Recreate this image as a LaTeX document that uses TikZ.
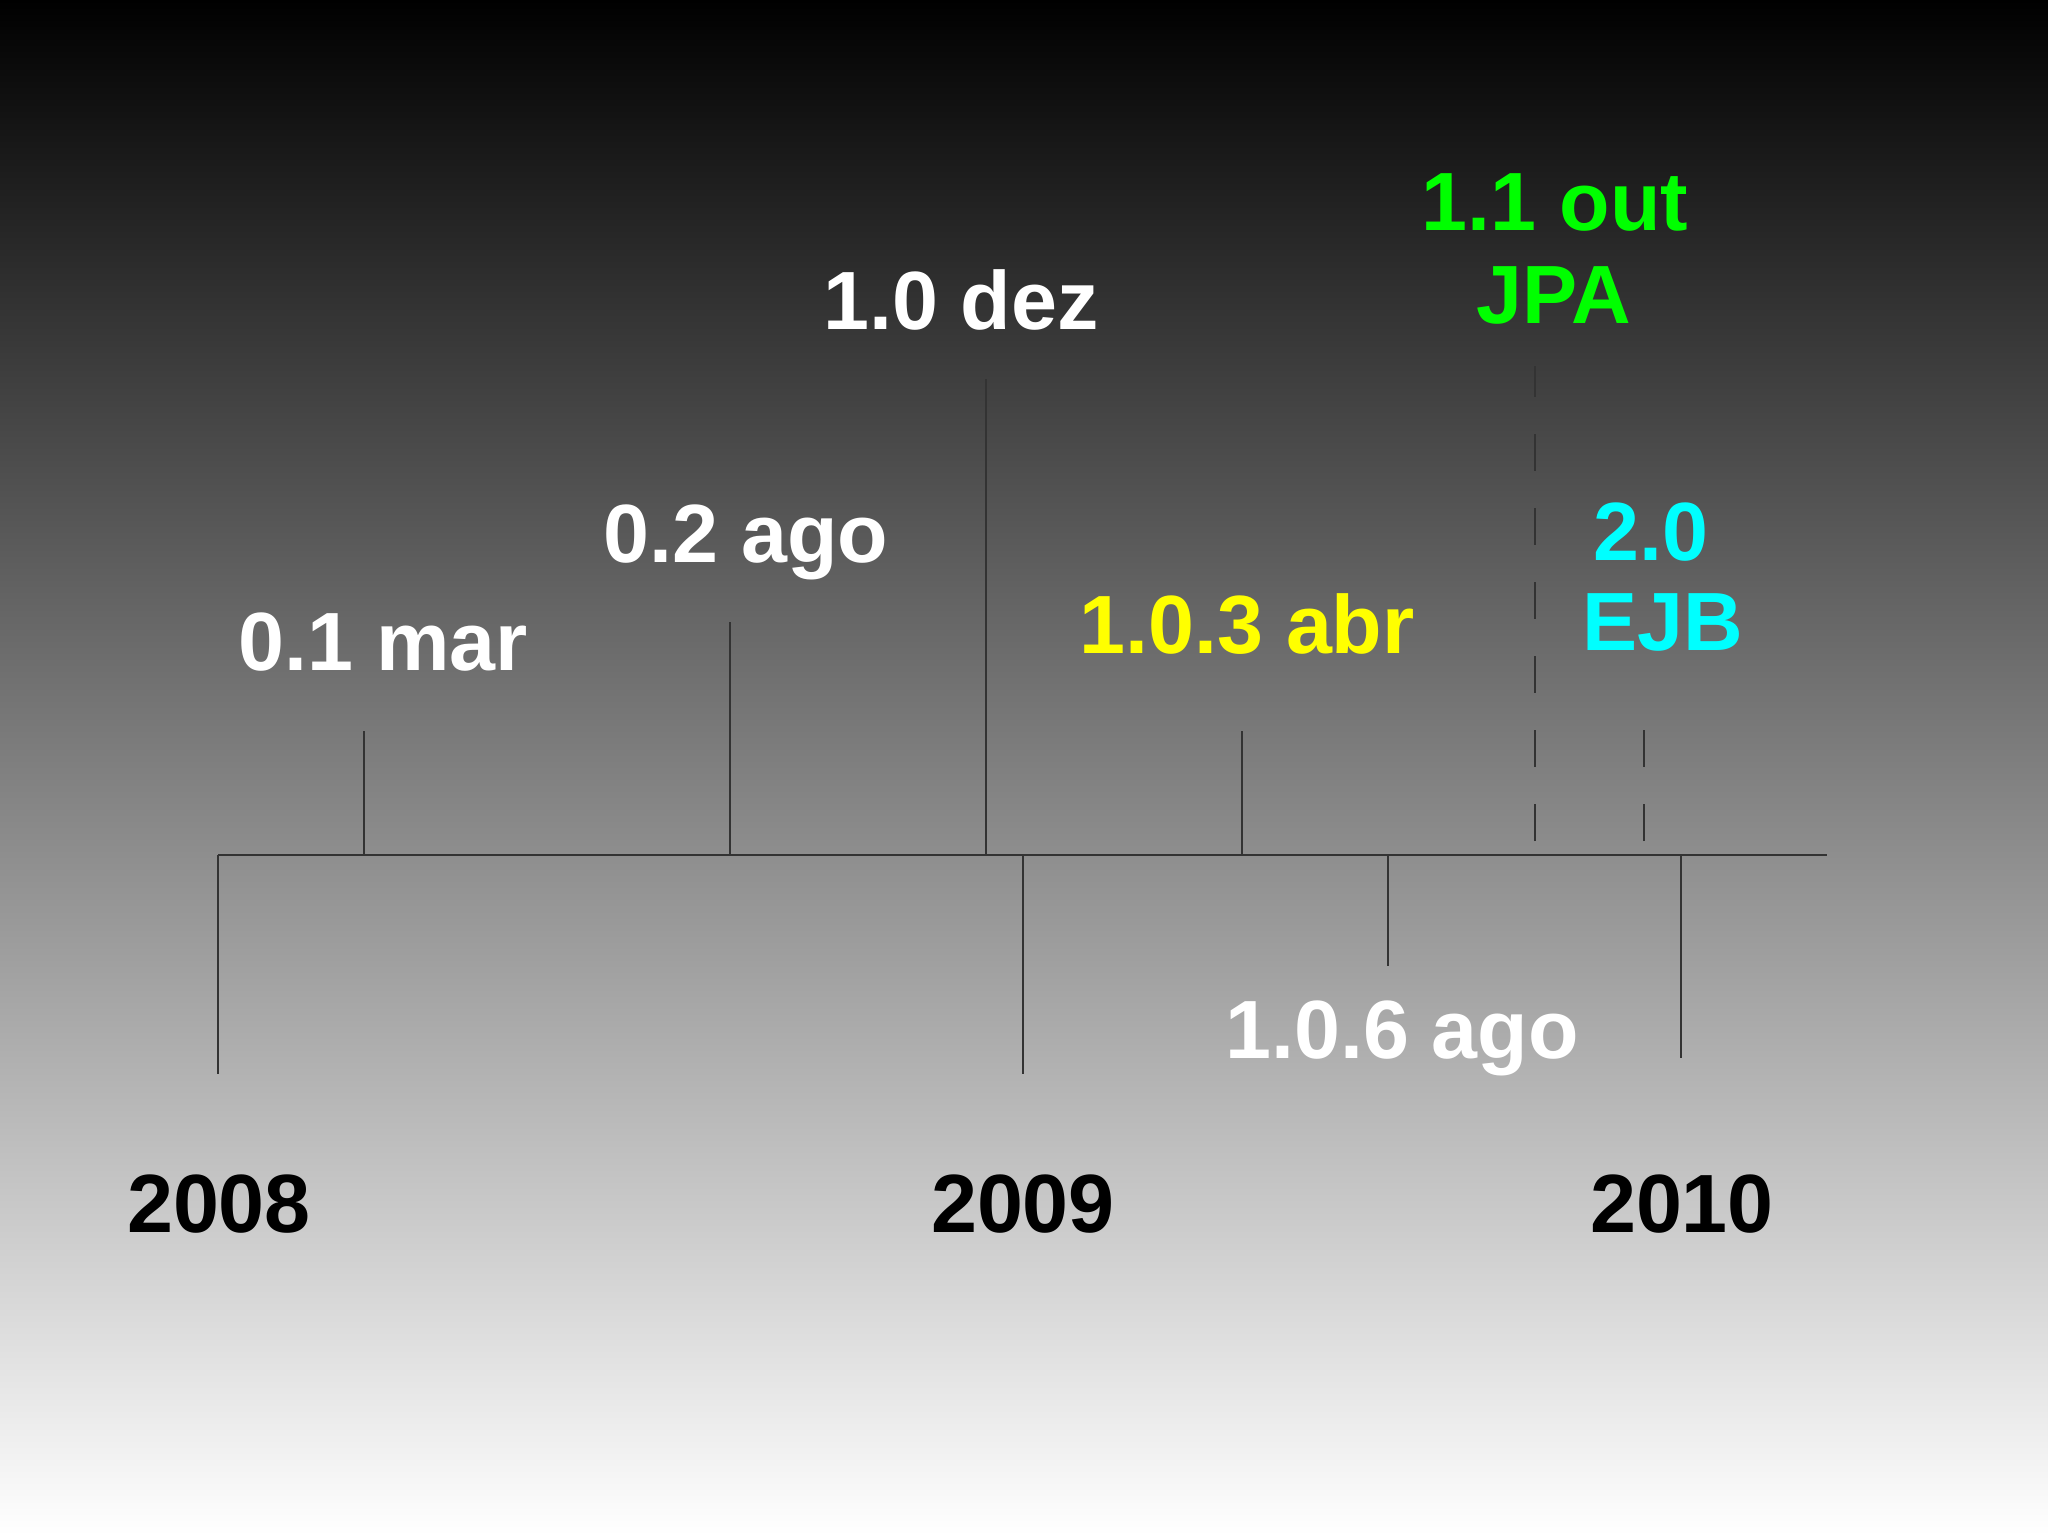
\documentclass[tikz,border=0pt]{standalone}
\usepackage{fontspec}
\setmainfont{Liberation Sans}
\definecolor{vgreen}{RGB}{0,255,0}
\definecolor{vyellow}{RGB}{255,255,0}
\definecolor{vcyan}{RGB}{0,255,255}
\begin{document}
\begin{tikzpicture}[x=0.01cm,y=-0.01cm,
  lbl/.style={inner sep=0pt,anchor=base,font=\fontsize{23.5}{26}\selectfont\bfseries},
  tick/.style={draw=black!80,line width=0.45pt},
  dtick/.style={tick,dash pattern=on 0.37cm off 0.37cm}]
\shade[top color=black,bottom color=white] (0,0) rectangle (2048,1535);
\useasboundingbox (0,0) rectangle (2048,1535);
% axis
\coordinate (axL) at (218,855);
\coordinate (axR) at (1827,855);
\draw[tick] (axL) -- (axR);
% downward ticks
\coordinate (y08t) at (218,855);  \coordinate (y08b) at (218,1074);
\coordinate (y09t) at (1023,855); \coordinate (y09b) at (1023,1074);
\coordinate (y10t) at (1681,855); \coordinate (y10b) at (1681,1058);
\coordinate (v106t) at (1388,855); \coordinate (v106b) at (1388,966);
\draw[tick] (y08t) -- (y08b);
\draw[tick] (y09t) -- (y09b);
\draw[tick] (y10t) -- (y10b);
\draw[tick] (v106t) -- (v106b);
% upward ticks
\coordinate (v01b) at (364,855); \coordinate (v01t) at (364,731);
\coordinate (v02b) at (730,855); \coordinate (v02t) at (730,622);
\coordinate (v10b) at (986,855); \coordinate (v10t) at (986,379);
\coordinate (v103b) at (1242,855); \coordinate (v103t) at (1242,731);
\coordinate (v11b) at (1535,841); \coordinate (v11t) at (1535,366);
\coordinate (v20b) at (1644,841); \coordinate (v20t) at (1644,730);
\draw[tick] (v01b) -- (v01t);
\draw[tick] (v02b) -- (v02t);
\draw[tick] (v10b) -- (v10t);
\draw[tick] (v103b) -- (v103t);
\draw[dtick] (v11b) -- (v11t);
\draw[dtick] (v20b) -- (v20t);
% labels
\node[lbl,text=white] (l01) at (383,670) {0.1 mar};
\node[lbl,text=white] (l02) at (746,562) {0.2 ago};
\node[lbl,text=white] (l10) at (961,329) {1.0 dez};
\node[lbl,text=vyellow] (l103) at (1247,653) {1.0.3 abr};
\node[lbl,text=vgreen] (l11) at (1555,230) {1.1 out};
\node[lbl,text=vgreen] (ljpa) at (1554,323) {JPA};
\node[lbl,text=vcyan] (l20) at (1651,560) {2.0};
\node[lbl,text=vcyan] (lejb) at (1663,650) {EJB};
\node[lbl,text=white] (l106) at (1402,1058) {1.0.6 ago};
\node[lbl,text=black] (l2008) at (219,1232) {2008};
\node[lbl,text=black] (l2009) at (1023,1232) {2009};
\node[lbl,text=black] (l2010) at (1682,1232) {2010};
\end{tikzpicture}
\end{document}
